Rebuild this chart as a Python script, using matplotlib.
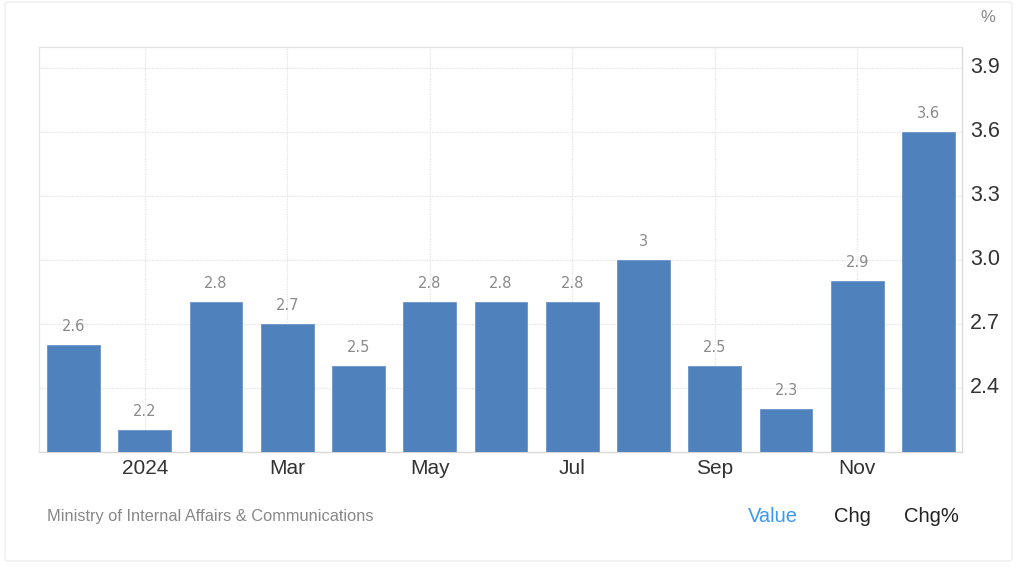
import matplotlib
matplotlib.use("Agg")
import matplotlib.pyplot as plt
from matplotlib.patches import FancyBboxPatch
from matplotlib.transforms import ScaledTranslation

months = ["Dec", "Jan", "Feb", "Mar", "Apr", "May", "Jun", "Jul", "Aug", "Sep", "Oct", "Nov", "Dec"]
values = [2.6, 2.2, 2.8, 2.7, 2.5, 2.8, 2.8, 2.8, 3.0, 2.5, 2.3, 2.9, 3.6]
value_labels = ["2.6", "2.2", "2.8", "2.7", "2.5", "2.8", "2.8", "2.8", "3", "2.5", "2.3", "2.9", "3.6"]
xtick_idx = [1, 3, 5, 7, 9, 11]
xtick_labels = ["2024", "Mar", "May", "Jul", "Sep", "Nov"]
yticks = [2.4, 2.7, 3.0, 3.3, 3.6, 3.9]
ytick_labels = ["2.4", "2.7", "3.0", "3.3", "3.6", "3.9"]

fig = plt.figure(figsize=(10.24, 5.81), dpi=100)
fig.patch.set_facecolor("white")

# outer faint border
border = FancyBboxPatch((5 / 1024, 20 / 581), 1007 / 1024, 559 / 581,
                        boxstyle="round,pad=0,rounding_size=0.004",
                        transform=fig.transFigure, fill=False,
                        edgecolor="#eeeeee", linewidth=1.0)
fig.patches.append(border)

ax = fig.add_axes([39 / 1024, (581 - 451.7) / 581, (962 - 39) / 1024, (451.7 - 46.7) / 581])
x = list(range(len(values)))
ax.bar(x, values, width=0.74, color="#4f81bd", edgecolor="#6b95c9", linewidth=0.6,
       bottom=0, zorder=3)
ax.set_ylim(2.1, 4.0)
ax.set_xlim(-0.485, 12.47)

for xi, v, lab in zip(x, values, value_labels):
    ax.annotate(lab, (xi, v), xytext=(0, 8), textcoords="offset points",
                ha="center", va="bottom", fontsize=10.5, color="#8a8a8a",
                family="DejaVu Sans")

ax.yaxis.tick_right()
ax.set_yticks(yticks)
ax.set_yticklabels(ytick_labels, fontsize=15.5, color="#333333", family="Liberation Sans")
ax.set_xticks(xtick_idx)
ax.set_xticklabels(xtick_labels, fontsize=15, color="#333333", family="Liberation Sans")
ax.tick_params(axis="both", length=0)
ax.tick_params(axis="y", pad=6)
ax.tick_params(axis="x", pad=5)
shift = ScaledTranslation(0, 3 / 100, fig.dpi_scale_trans)
for lbl in ax.get_yticklabels():
    lbl.set_transform(lbl.get_transform() + shift)

ax.grid(True, axis="both", linestyle=(0, (1, 1)), color="#e2e2e2", linewidth=0.9, zorder=0)
ax.set_axisbelow(True)

ax.spines["left"].set_color("#e6e6e6")
ax.spines["left"].set_linewidth(0.9)
ax.spines["top"].set_color("#e2e2e2")
ax.spines["top"].set_linestyle((0, (1, 1)))
ax.spines["top"].set_linewidth(0.9)
ax.spines["right"].set_color("#d9d9d9")
ax.spines["right"].set_linewidth(1.0)
ax.spines["bottom"].set_color("#d9d9d9")
ax.spines["bottom"].set_linewidth(1.0)

fig.text(988 / 1024, 1 - 18 / 581, "%", fontsize=12, color="#888888",
         ha="center", va="center", family="Liberation Sans")
fig.text(47 / 1024, 1 - 516 / 581, "Ministry of Internal Affairs & Communications",
         fontsize=11.8, color="#888888", ha="left", va="center", family="Liberation Sans")
fig.text(773 / 1024, 1 - 516 / 581, "Value", fontsize=14.5, color="#3d98f5",
         ha="center", va="center", family="Liberation Sans")
fig.text(852 / 1024, 1 - 516 / 581, "Chg", fontsize=14.5, color="#222222",
         ha="center", va="center", family="Liberation Sans")
fig.text(931 / 1024, 1 - 516 / 581, "Chg%", fontsize=14.5, color="#222222",
         ha="center", va="center", family="Liberation Sans")

fig.savefig("out.png", dpi=100, facecolor="white")
